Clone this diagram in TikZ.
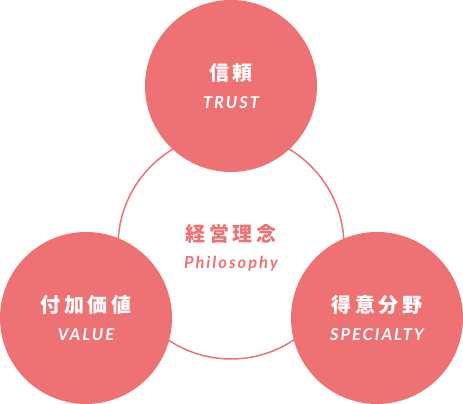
\documentclass[tikz,border=0pt]{standalone}
\usepackage{fontspec}
\usetikzlibrary{positioning}
\newfontfamily\jpfont{Noto Sans CJK JP}[LetterSpace=18]
\newfontfamily\latofont{Lato}[LetterSpace=12]
\definecolor{Coral}{HTML}{EE7174}

\begin{document}
\begin{tikzpicture}[x=1pt,y=1pt,
  ring/.style={circle,draw=Coral,line width=1.5pt,minimum size=226pt,inner sep=0pt},
  disc/.style={circle,fill=Coral,minimum size=172pt,inner sep=0pt},
  jtitle/.style={text=white,font=\jpfont\bfseries\fontsize{20}{20}\selectfont},
  etitle/.style={text=white,font=\latofont\bfseries\itshape\fontsize{16.5}{16.5}\selectfont}]
  \useasboundingbox (0,0) rectangle (463,404);
  % centre ring and the three discs
  \node[ring] (philo) at (231,158) {};
  \node[disc] (trust) at (231,318) {};
  \node[disc] (value) at (86,86) {};
  \node[disc] (special) at (377,86) {};
  % labels
  \node[jtitle,text=Coral] (philojp) at ([yshift=12pt]philo.center) {経営理念};
  \node[etitle,text=Coral] (philoen) at ([yshift=-18pt]philo.center) {Philosophy};
  \node[jtitle] (trustjp) at ([yshift=13pt]trust.center) {信頼};
  \node[etitle] (trusten) at ([yshift=-17pt]trust.center) {TRUST};
  \node[jtitle] (valuejp) at ([yshift=13pt]value.center) {付加価値};
  \node[etitle] (valueen) at ([yshift=-17pt]value.center) {VALUE};
  \node[jtitle] (specialjp) at ([yshift=13pt]special.center) {得意分野};
  \node[etitle] (specialen) at ([yshift=-17pt]special.center) {SPECIALTY};
\end{tikzpicture}
\end{document}
